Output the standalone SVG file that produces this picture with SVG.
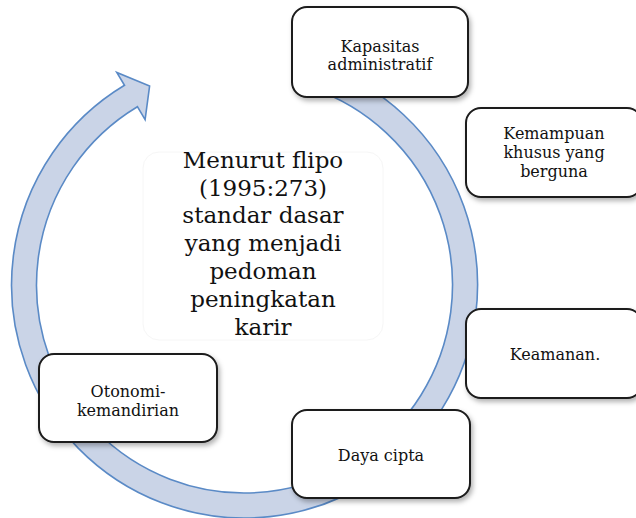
<svg xmlns="http://www.w3.org/2000/svg" width="636" height="518" viewBox="0 0 636 518">
<defs>
<filter id="sh" x="-10%" y="-10%" width="125%" height="130%">
<feDropShadow dx="2" dy="3" stdDeviation="2.5" flood-color="#000" flood-opacity="0.3"/>
</filter>
</defs>
<style>
.box{fill:#fff;stroke:#1a1a1a;stroke-width:2;filter:url(#sh)}
.t{font-family:"DejaVu Serif","Liberation Serif",serif;font-size:16px;fill:#111;text-anchor:middle}
.c{font-family:"DejaVu Serif","Liberation Serif",serif;font-size:23px;fill:#111;text-anchor:middle}
.ring{fill:#cad4e7;stroke:#5a8ac6;stroke-width:1.6;stroke-linejoin:miter}
</style>
<rect width="636" height="518" fill="#fff"/>
<g id="connectors">
<path class="ring" d="M318.4,64 A233,233 0 1 1 124.5,85.3 L116.8,72.4 L149.6,86 L145.1,119.6 L137.4,106.7 A208,208 0 1 0 310.5,87.75 Z"/>
</g>
<g id="center">
<rect x="143" y="152" width="240" height="188" rx="16" fill="#fff" stroke="#f6f6f6" stroke-width="1"/>
<text class="c" x="263" y="168">Menurut flipo</text>
<text class="c" x="263" y="196">(1995:273)</text>
<text class="c" x="263" y="223">standar dasar</text>
<text class="c" x="263" y="251">yang menjadi</text>
<text class="c" x="263" y="279">pedoman</text>
<text class="c" x="263" y="307">peningkatan</text>
<text class="c" x="263" y="335">karir</text>
</g>
<g id="kapasitas">
<rect class="box" x="292" y="7" width="176" height="90" rx="15"/>
<text class="t" x="380" y="52">Kapasitas</text>
<text class="t" x="380" y="70">administratif</text>
</g>
<g id="kemampuan">
<rect class="box" x="466" y="108" width="176" height="89" rx="15"/>
<text class="t" x="554" y="139">Kemampuan</text>
<text class="t" x="554" y="158">khusus yang</text>
<text class="t" x="554" y="177">berguna</text>
</g>
<g id="keamanan">
<rect class="box" x="466" y="309" width="176" height="89" rx="15"/>
<text class="t" x="555" y="360">Keamanan.</text>
</g>
<g id="daya">
<rect class="box" x="292" y="410" width="178" height="88" rx="15"/>
<text class="t" x="381" y="461">Daya cipta</text>
</g>
<g id="otonomi">
<rect class="box" x="39" y="354" width="178" height="88" rx="15"/>
<text class="t" x="128" y="397">Otonomi-</text>
<text class="t" x="128" y="416">kemandirian</text>
</g>
</svg>
